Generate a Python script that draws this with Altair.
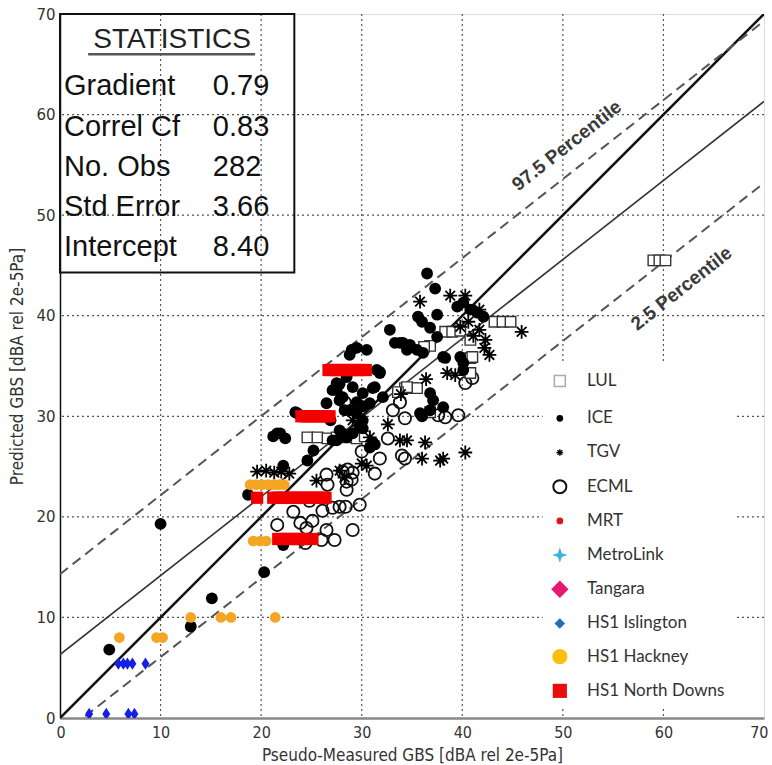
import altair as alt
import pandas as pd

# ---- observations (pseudo-measured x, predicted y) ----
lul_x = [59.0, 59.6, 60.2, 43.2, 44.0, 44.8, 38.3, 39.0, 39.8, 40.8, 36.8, 36.2, 34.3, 35.1, 35.5,
         34.5, 33.6, 24.6, 25.6, 26.6, 27.5, 28.6, 29.5, 30.3, 36.8, 40.8, 41.0, 40.8]
lul_y = [45.5, 45.5, 45.5, 39.4, 39.4, 39.4, 38.4, 38.4, 38.5, 37.6, 37.0, 36.9, 32.8, 32.8, 32.8,
         32.9, 32.4, 27.9, 27.9, 27.8, 27.9, 27.9, 27.8, 28.0, 30.4, 35.8, 35.9, 34.3]

ice_x = [4.9, 10.0, 13.0, 15.1, 20.3, 18.7, 22.2, 22.2, 21.9, 22.4, 21.2, 23.4, 23.6,
         26.5, 27.5, 27.8, 28.5, 29.1, 28.8, 31.8, 27.8, 29.5, 28.8, 33.8, 34.5,
         36.5, 37.3, 37.5, 35.6, 36.0, 36.8, 32.8, 33.3, 34.1, 34.8, 35.5, 36.1, 38.1, 39.8,
         40.1, 37.5, 39.5, 40.1, 40.8, 41.5, 42.1, 29.0, 29.5, 30.5, 31.5, 31.8, 27.5, 27.1,
         28.1, 30.1, 30.8, 31.3, 28.3, 29.5, 30.1, 36.8, 37.1, 38.1, 36.8, 27.8, 28.5, 29.1,
         27.1, 31.1, 38.3, 40.1, 31.1, 32.1, 30.1, 30.1, 30.8, 31.3, 35.8, 36.0, 27.5, 28.1,
         21.6, 26.9, 29.8, 25.2, 24.6]
ice_y = [6.8, 19.3, 9.1, 11.9, 14.5, 22.2, 25.1, 17.2, 28.3, 27.8, 28.0, 30.4, 30.3,
         31.3, 32.6, 33.2, 33.9, 32.9, 36.1, 34.4, 31.6, 31.4, 30.6, 37.3, 36.6,
         44.2, 42.7, 40.1, 39.9, 39.4, 38.8, 38.6, 37.3, 37.3, 37.1, 36.6, 36.3, 35.9, 35.9,
         35.3, 37.9, 40.9, 41.3, 40.6, 40.3, 39.9, 36.6, 36.8, 36.6, 34.6, 34.3, 33.3, 32.6,
         31.9, 32.3, 31.3, 32.9, 30.6, 30.3, 29.6, 32.3, 31.6, 30.9, 30.6, 28.6, 27.9, 28.3,
         27.6, 27.4, 35.8, 34.6, 32.8, 31.9, 31.0, 28.8, 26.9, 27.2, 30.3, 30.0, 27.6, 28.3,
         28.3, 29.6, 29.0, 26.6, 25.6]

tgv_x = [35.8, 38.8, 40.3, 41.7, 41.7, 42.3, 42.2, 42.7, 45.9, 39.3, 38.5, 33.8, 34.5, 36.3,
         37.8, 38.1, 36.0, 40.3, 28.3, 27.8, 30.5, 30.0, 25.5, 19.6, 20.5, 21.3, 22.0, 22.8,
         40.6, 41.1, 39.8, 29.1, 30.8, 32.6, 36.4, 33.9]
tgv_y = [41.4, 42.0, 42.0, 40.6, 38.6, 37.6, 36.8, 36.1, 38.4, 34.1, 34.3, 27.6, 27.6, 27.4,
         25.6, 25.8, 25.8, 26.4, 23.9, 24.6, 25.1, 25.3, 23.6, 24.5, 24.6, 24.4, 24.5, 24.3,
         39.4, 38.0, 38.9, 29.6, 27.9, 29.2, 33.7, 32.2]

ecml_x = [41.0, 40.3, 39.6, 34.3, 37.6, 38.3, 31.8, 34.3, 34.0, 32.6, 33.1, 33.8, 28.3, 28.6,
          29.0, 28.5, 26.5, 28.1, 28.5, 29.1, 26.6, 27.8, 27.1, 26.1, 26.5, 25.1, 24.5, 23.9,
          21.6, 26.0, 27.3, 24.4, 29.1, 28.4, 29.2, 30.0, 29.8, 31.3, 23.2, 24.8]
ecml_y = [33.8, 33.3, 30.1, 29.8, 30.1, 29.9, 25.8, 25.8, 26.1, 27.8, 30.6, 31.4, 31.4, 24.7,
          23.7, 22.7, 24.2, 24.5, 23.5, 24.4, 23.2, 21.0, 20.9, 20.6, 18.7, 19.6, 18.9, 19.4,
          19.2, 17.7, 17.7, 17.4, 18.7, 21.0, 28.0, 26.5, 21.2, 24.3, 20.5, 21.6]

hackney_x = [5.9, 9.6, 10.2, 13.0, 16.0, 17.0, 21.4, 18.9, 19.5, 20.1, 20.7, 21.3, 21.8, 22.3,
             19.2, 19.9, 20.5]
hackney_y = [8.0, 8.0, 8.0, 10.0, 10.0, 10.0, 10.0, 23.2, 23.2, 23.2, 23.2, 23.2, 23.2, 23.2,
             17.6, 17.6, 17.6]

downs_x = [26.7, 27.1, 27.5, 27.9, 28.3, 28.7, 29.1, 29.5, 29.9, 30.4,
           24.0, 24.4, 24.8, 25.2, 25.6, 26.0, 26.4, 26.8,
           19.6, 21.2, 21.6, 22.0, 22.4, 22.8, 23.2, 23.6, 24.0, 24.4, 24.8, 25.2, 25.6, 26.0, 26.4,
           21.7, 22.1, 22.5, 22.9, 23.3, 23.7, 24.1, 24.5, 25.1]
downs_y = [34.6] * 10 + [30.0] * 8 + [21.9] * 15 + [17.8] * 9

islington_x = [5.8, 6.3, 6.7, 7.2, 8.5, 2.9, 4.6, 6.8, 7.4]
islington_y = [5.4, 5.4, 5.4, 5.4, 5.4, 0.4, 0.4, 0.4, 0.4]

# ---- fitted lines: 1:1, regression, 97.5 / 2.5 percentile bands ----
line_x = [0, 70]
one_to_one_y = [0, 70]
regression_y = [6.3, 61.3]
upper_y = [14.3, 69.3]
lower_y = [-1.8, 53.2]

# ---- statistics panel ----
stat_names = ["Gradient", "Correl Cf", "No. Obs", "Std Error", "Intercept"]
stat_values = ["0.79", "0.83", "282", "3.66", "8.40"]
stat_rows_y = [61.9, 57.9, 53.9, 49.9, 45.9]

# ---- legend entries ----
legend_names = ["LUL", "ICE", "TGV", "ECML", "MRT", "MetroLink", "Tangara",
                "HS1 Islington", "HS1 Hackney", "HS1 North Downs"]
legend_rows_y = [33.5, 29.8, 26.4, 23.0, 19.6, 16.2, 12.8, 9.4, 6.1, 2.7]

# ---- axis ticks / grid ----
ticks = [0, 10, 20, 30, 40, 50, 60, 70]
grid_values = [10, 20, 30, 40, 50, 60]

ASTERISK = "M0,-1L0,1M-1,0L1,0M-0.7,-0.7L0.7,0.7M-0.7,0.7L0.7,-0.7"
STAR4 = "M0,-1L0.25,-0.25L1,0L0.25,0.25L0,1L-0.25,0.25L-1,0L-0.25,-0.25Z"
TALL_DIAMOND = "M0,-1L0.65,0L0,1L-0.65,0Z"

SANS = "Liberation Sans"
AX_FONT = "DejaVu Sans"
COND = "DejaVu Sans Condensed, Liberation Sans Narrow, DejaVu Sans"

xs = alt.Scale(domain=[0, 70], nice=False)
ys = alt.Scale(domain=[0, 70], nice=False)

X = alt.X("x:Q", scale=xs, axis=alt.Axis(
    values=ticks, title="Pseudo-Measured GBS [dBA rel 2e-5Pa]", ticks=False,
    labelFont=COND, labelFontSize=16, labelColor="#333", labelPadding=6,
    labelFlush=True, labelFlushOffset=4,
    titleFont=COND, titleFontSize=17, titleFontWeight="normal", titleColor="#333",
    titlePadding=7, domainColor="#888", domainWidth=2.5, grid=False))
Y = alt.Y("y:Q", scale=ys, axis=alt.Axis(
    values=ticks, title="Predicted GBS [dBA rel 2e-5Pa]", ticks=False,
    labelFont=AX_FONT, labelFontSize=15, labelColor="#333", labelPadding=5,
    labelFlush=False,
    titleFont=COND, titleFontSize=17, titleFontWeight="normal", titleColor="#333",
    titlePadding=9, domainColor="#111", domainWidth=1.5, grid=False))


def df(x, y):
    return pd.DataFrame({"x": x, "y": y})


# dotted grid drawn from the tick values
vgrid = alt.Chart(pd.DataFrame({"x": grid_values})).mark_rule(
    color="#555", strokeWidth=1.2, strokeDash=[2, 3]).encode(x=X)
hgrid = alt.Chart(pd.DataFrame({"y": grid_values})).mark_rule(
    color="#555", strokeWidth=1.2, strokeDash=[2, 3]).encode(y=Y)

lines = pd.DataFrame({
    "x": line_x * 4,
    "y": one_to_one_y + regression_y + upper_y + lower_y,
    "kind": ["one"] * 2 + ["reg"] * 2 + ["up"] * 2 + ["low"] * 2,
})

one_line = alt.Chart(lines[lines.kind == "one"]).mark_line(
    color="#111", strokeWidth=2.6, clip=True).encode(x=X, y=Y)
reg_line = alt.Chart(lines[lines.kind == "reg"]).mark_line(
    color="#333", strokeWidth=1.6, clip=True).encode(x=X, y=Y)
band_lines = alt.Chart(lines[lines.kind.isin(["up", "low"])]).mark_line(
    color="#555", strokeWidth=2, strokeDash=[10, 6], clip=True).encode(
    x=X, y=Y, detail="kind:N")

pct_df = pd.DataFrame({"x": [50.4, 61.8], "y": [56.9, 42.7],
                       "t": ["97.5 Percentile", "2.5 Percentile"]})
pct_text = alt.Chart(pct_df).mark_text(
    angle=321.7, font=SANS, fontSize=19, fontWeight="bold", color="#3a3a3a",
    align="center", baseline="middle").encode(x=X, y=Y, text="t:N")

ecml = alt.Chart(df(ecml_x, ecml_y)).mark_point(
    shape="circle", size=150, filled=False, stroke="#111", strokeWidth=1.8,
    opacity=1, clip=True).encode(x=X, y=Y)
lul = alt.Chart(df(lul_x, lul_y)).mark_point(
    shape="square", size=110, filled=True, fill="white", stroke="#333",
    strokeWidth=1.4, opacity=1, clip=True).encode(x=X, y=Y)
ice = alt.Chart(df(ice_x, ice_y)).mark_point(
    shape="circle", size=140, filled=True, color="#000", opacity=1, clip=True).encode(x=X, y=Y)
tgv = alt.Chart(df(tgv_x, tgv_y)).mark_point(
    shape=ASTERISK, size=190, filled=False, stroke="#000", strokeWidth=1.8,
    opacity=1, clip=True).encode(x=X, y=Y)
hackney = alt.Chart(df(hackney_x, hackney_y)).mark_point(
    shape="circle", size=115, filled=True, color="#F4A623", opacity=1, clip=True).encode(x=X, y=Y)
downs = alt.Chart(df(downs_x, downs_y)).mark_point(
    shape="square", size=150, filled=True, color="#F20000", opacity=1, clip=True).encode(x=X, y=Y)
islington = alt.Chart(df(islington_x, islington_y)).mark_point(
    shape=TALL_DIAMOND, size=150, filled=True, color="#1420E6", opacity=1, clip=True).encode(x=X, y=Y)

# statistics panel
box_df = pd.DataFrame({"x": [0], "x2": [23.3], "y": [44.3], "y2": [70]})
stats_box = alt.Chart(box_df).mark_rect(
    fillOpacity=0, stroke="#111", strokeWidth=2).encode(
    x=X, x2="x2:Q", y=Y, y2="y2:Q")
head_df = pd.DataFrame({"x": [11.15], "y": [66.6], "t": ["STATISTICS"]})
stats_head = alt.Chart(head_df).mark_text(
    font=SANS, fontSize=28, color="#222", align="center", baseline="alphabetic").encode(
    x=X, y=Y, text="t:N")
uline_df = pd.DataFrame({"x": [2.8], "x2": [19.4], "y": [66.0]})
stats_uline = alt.Chart(uline_df).mark_rule(color="#555", strokeWidth=2.5).encode(
    x=X, x2="x2:Q", y=Y)
names_df = pd.DataFrame({"x": [0.4] * 5, "y": stat_rows_y, "t": stat_names})
vals_df = pd.DataFrame({"x": [15.2] * 5, "y": stat_rows_y, "t": stat_values})
stats_names = alt.Chart(names_df).mark_text(
    font=SANS, fontSize=29, color="#111", align="left", baseline="alphabetic").encode(
    x=X, y=Y, text="t:N")
stats_vals = alt.Chart(vals_df).mark_text(
    font=SANS, fontSize=29, color="#111", align="left", baseline="alphabetic").encode(
    x=X, y=Y, text="t:N")

# legend panel
leg_box_df = pd.DataFrame({"x": [48.0], "x2": [67.3], "y": [1.2], "y2": [35.4]})
leg_box = alt.Chart(leg_box_df).mark_rect(fill="white", stroke=None).encode(
    x=X, x2="x2:Q", y=Y, y2="y2:Q")

leg_style = {
    "LUL": dict(shape="square", size=120, filled=True, fill="white", stroke="#aaa", strokeWidth=1.5),
    "ICE": dict(shape="circle", size=45, filled=True, color="#000"),
    "TGV": dict(shape=ASTERISK, size=45, filled=False, stroke="#000", strokeWidth=1.3),
    "ECML": dict(shape="circle", size=170, filled=False, stroke="#111", strokeWidth=2),
    "MRT": dict(shape="circle", size=45, filled=True, color="#E01515"),
    "MetroLink": dict(shape=STAR4, size=240, filled=True, color="#3DB2DC"),
    "Tangara": dict(shape="diamond", size=300, filled=True, color="#E8176F"),
    "HS1 Islington": dict(shape="diamond", size=110, filled=True, color="#1F6FC0"),
    "HS1 Hackney": dict(shape="circle", size=230, filled=True, color="#FFBE0A"),
    "HS1 North Downs": dict(shape="square", size=200, filled=True, color="#EE0A0A"),
}
leg_marks = []
for name, ly in zip(legend_names, legend_rows_y):
    d = pd.DataFrame({"x": [49.7], "y": [ly]})
    leg_marks.append(alt.Chart(d).mark_point(opacity=1, **leg_style[name]).encode(x=X, y=Y))
leg_text_df = pd.DataFrame({"x": [52.4] * len(legend_names), "y": legend_rows_y,
                            "t": legend_names})
leg_text = alt.Chart(leg_text_df).mark_text(
    font="Lato", fontSize=17, color="#333", align="left", baseline="middle").encode(
    x=X, y=Y, text="t:N")

chart = alt.layer(
    vgrid, hgrid,
    one_line, reg_line, band_lines,
    ecml, lul, ice, tgv, hackney, downs, islington,
    pct_text,
    stats_box, stats_head, stats_uline, stats_names, stats_vals,
    leg_box, *leg_marks, leg_text,
).properties(
    width=704, height=704,
    padding={"left": 60, "top": 14, "right": 8, "bottom": 47},
    autosize=alt.AutoSizeParams(type="none"),
).configure_view(
    stroke="#111", strokeWidth=2
).configure(background="white")

chart.save("out.html", embed_options={"renderer": "svg", "actions": False})
